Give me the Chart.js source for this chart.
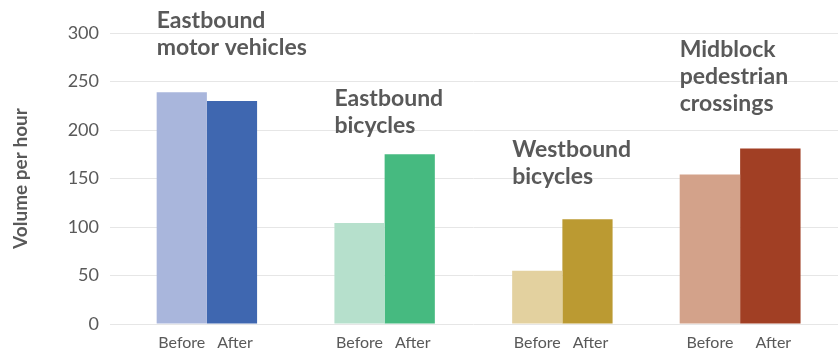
<!DOCTYPE html>
<html>
<head>
<meta charset="utf-8">
<script src="https://cdn.jsdelivr.net/npm/chart.js@4"></script>
<style>
  html, body { margin: 0; padding: 0; background: #fff; }
  #wrap { width: 838px; height: 356px; }
</style>
</head>
<body>
<div id="wrap"><canvas id="chart" width="838" height="356"></canvas></div>
<script>
// data
const groups = [
  ["Eastbound", "motor vehicles"],
  ["Eastbound", "bicycles"],
  ["Westbound", "bicycles"],
  ["Midblock", "pedestrian", "crossings"]
];
const beforeValues = [239, 104, 55, 154];
const afterValues = [230, 175, 108, 181];
const barLabels = ["Before", "After"];
const yTicks = [0, 50, 100, 150, 200, 250, 300];

const beforeColors = ['#a9b6dc', '#b6e0cc', '#e3d19f', '#d3a28a'];
const afterColors = ['#3f67b0', '#46ba80', '#bb9a32', '#a13f24'];
// baseline of first title line, in axis units
const titleBase = [305, 225, 172, 275];
// last group has wider bars in the original
const wideGroup = 3;

const textColor = '#595959';
const gridColor = '#e6e6e6';

const only = (arr, keep) => arr.map((v, i) => keep(i) ? v : null);
const narrow = i => i !== wideGroup;
const wide = i => i === wideGroup;

// group titles + Before/After under each bar
const groupText = {
  id: 'groupText',
  afterDatasetsDraw(chart) {
    const ctx = chart.ctx;
    const y = chart.scales.y;
    ctx.save();
    ctx.fillStyle = textColor;
    groups.forEach((lines, i) => {
      const off = wide(i) ? 2 : 0;
      const b = chart.getDatasetMeta(off).data[i];
      const a = chart.getDatasetMeta(off + 1).data[i];
      const left = b.x - b.width / 2;
      ctx.font = 'bold 23px Lato';
      ctx.textAlign = 'left';
      ctx.textBaseline = 'alphabetic';
      const base = y.getPixelForValue(titleBase[i]);
      lines.forEach((t, k) => ctx.fillText(t, left, base + k * 27));

      ctx.font = '16px Lato';
      ctx.textAlign = 'center';
      ctx.fillText(barLabels[0], b.x, 348);
      ctx.fillText(barLabels[1], a.x + 3, 348);
    });
    ctx.restore();
  }
};

new Chart(document.getElementById('chart'), {
  type: 'bar',
  data: {
    labels: groups.map(g => g.join(' ')),
    datasets: [
      { label: barLabels[0], data: only(beforeValues, narrow), backgroundColor: beforeColors },
      { label: barLabels[1], data: only(afterValues, narrow), backgroundColor: afterColors },
      { label: barLabels[0], data: only(beforeValues, wide), backgroundColor: beforeColors, categoryPercentage: 0.68 },
      { label: barLabels[1], data: only(afterValues, wide), backgroundColor: afterColors, categoryPercentage: 0.68 }
    ]
  },
  options: {
    responsive: false,
    animation: false,
    layout: { padding: { top: 33, bottom: 32, right: 0, left: 0 } },
    plugins: { legend: { display: false }, tooltip: { enabled: false } },
    datasets: { bar: { categoryPercentage: 0.565, barPercentage: 1.0, skipNull: true } },
    scales: {
      x: { display: false },
      y: {
        min: 0, max: 300,
        afterFit(axis) { axis.width = 118; },
        afterBuildTicks(axis) { axis.ticks = yTicks.map(v => ({ value: v })); },
        border: { display: false },
        grid: { color: gridColor, lineWidth: 1, drawTicks: true, tickLength: 8 },
        ticks: { color: textColor, font: { family: 'Lato', size: 18 }, padding: 11 },
        title: {
          display: true, text: 'Volume per hour', color: textColor,
          font: { family: 'Lato', size: 19, weight: 'bold' },
          padding: { top: 9, bottom: 0 }
        }
      },
      // right-hand stub so the grid lines run to the edge
      y2: {
        position: 'right',
        min: 0, max: 300,
        afterFit(axis) { axis.width = 9; },
        afterBuildTicks(axis) { axis.ticks = yTicks.map(v => ({ value: v })); },
        border: { display: false },
        grid: { color: gridColor, lineWidth: 1, drawTicks: true, tickLength: 9, drawOnChartArea: false },
        ticks: { display: false }
      }
    }
  },
  plugins: [groupText]
});
</script>
</body>
</html>
